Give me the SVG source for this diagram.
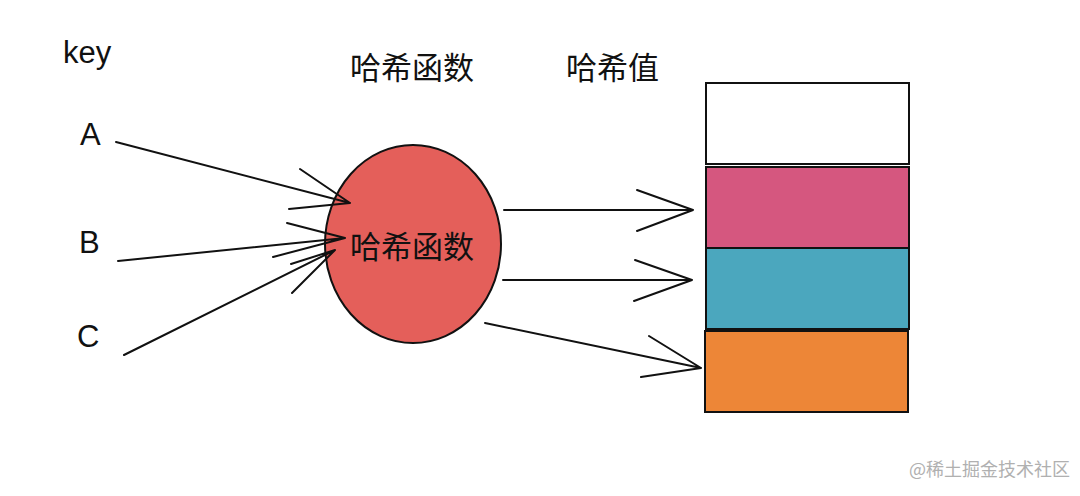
<svg xmlns="http://www.w3.org/2000/svg" width="1080" height="496" viewBox="0 0 1080 496">
<style>
.lbl{font-family:"Liberation Sans","Noto Sans CJK SC",Arial,sans-serif;font-size:31px;fill:#111}
.cjk{font-family:"Noto Sans CJK SC","Liberation Sans",sans-serif;font-size:31px;fill:#111}
.ln{stroke:#111;stroke-width:2;fill:none;stroke-linecap:round;stroke-linejoin:round}
.box{stroke:#111;stroke-width:2}
.wm{font-family:"Noto Sans CJK SC","Liberation Sans",sans-serif;font-size:18px;fill:#b0b0b0}
</style>
<rect width="1080" height="496" fill="#ffffff"/>
<g id="labels">
<text class="lbl" x="63" y="63">key</text>
<text class="cjk" x="350" y="79">哈希函数</text>
<text class="cjk" x="566" y="79">哈希值</text>
</g>
<g id="keyA"><text class="lbl" x="80" y="145">A</text></g>
<g id="keyB"><text class="lbl" x="79" y="253">B</text></g>
<g id="keyC"><text class="lbl" x="77" y="347">C</text></g>
<g id="hashfn">
<ellipse cx="413" cy="244" rx="88" ry="99" fill="#e45f5a" stroke="#111" stroke-width="2"/>
<text class="cjk" x="350" y="258">哈希函数</text>
</g>
<g id="bucket0"><rect class="box" x="706" y="83" width="203" height="81" fill="#ffffff"/></g>
<g id="bucket1"><rect class="box" x="706" y="167" width="203" height="81" fill="#d5577f"/></g>
<g id="bucket2"><rect class="box" x="706" y="248" width="203" height="81" fill="#4ba7be"/></g>
<g id="bucket3"><rect class="box" x="705" y="331" width="203" height="81" fill="#ed8637"/></g>
<g id="connectors">
<path class="ln" d="M116 142 L350 203 M300 169 L350 203 L289 209"/>
<path class="ln" d="M118 261 L345 238 M287 223 L345 238 L273 257"/>
<path class="ln" d="M124 355 L335 250 M291 264 L335 250 L292 293"/>
<path class="ln" d="M504 210 L693 210 M637 190 L693 210 L637 231"/>
<path class="ln" d="M503 280 L692 280 M635 260 L692 280 L634 301"/>
<path class="ln" d="M485 323 L701 368 M649 336 L701 368 L641 377"/>
</g>
<text class="wm" x="1070" y="476" text-anchor="end">@稀土掘金技术社区</text>
</svg>
